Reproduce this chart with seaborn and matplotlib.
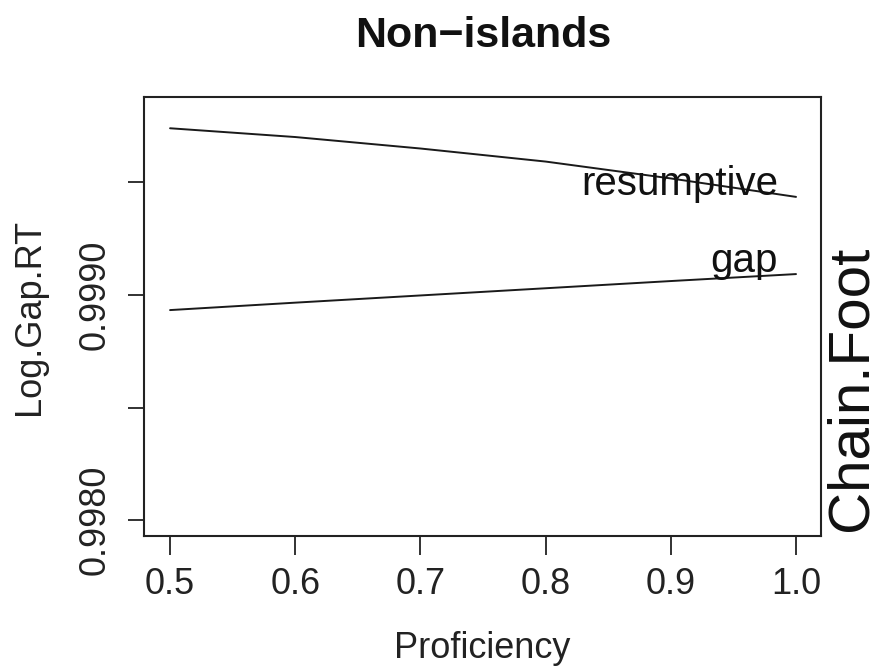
import numpy as np
import pandas as pd
import matplotlib
matplotlib.use("Agg")
import matplotlib.pyplot as plt
import seaborn as sns

# ==========================================================
# Data
# ==========================================================

proficiency = [0.5, 0.6, 0.7, 0.8, 0.9, 1.0]
resumptive_rt = [0.999741, 0.999702, 0.999651, 0.999593, 0.999518, 0.999436]
gap_rt = [0.998933, 0.998966, 0.998998, 0.999030, 0.999062, 0.999093]

y_ticks = [0.9980, 0.9985, 0.9990, 0.9995]
y_tick_labels = ["0.9980", "", "0.9990", ""]
x_ticks = [0.5, 0.6, 0.7, 0.8, 0.9, 1.0]
x_tick_labels = ["0.5", "0.6", "0.7", "0.8", "0.9", "1.0"]

df = pd.DataFrame({
    "Proficiency": proficiency * 2,
    "Log.Gap.RT": resumptive_rt + gap_rt,
    "Chain.Foot": ["resumptive"] * len(proficiency) + ["gap"] * len(proficiency),
})

# ==========================================================
# Plot
# ==========================================================

sns.set_style("ticks")
plt.rcParams["font.family"] = ["Liberation Sans", "DejaVu Sans"]

fig = plt.figure(figsize=(8.82, 6.67), dpi=100)
ax = fig.add_axes([0.1633, 0.1964, 0.7676, 0.6582])

sns.lineplot(
    data=df,
    x="Proficiency",
    y="Log.Gap.RT",
    hue="Chain.Foot",
    palette={"resumptive": "#1a1a1a", "gap": "#1a1a1a"},
    linewidth=1.4,
    legend=False,
    ax=ax,
)

ax.set_xlim(0.4792, 1.02)
ax.set_ylim(0.997929, 0.999880)

ax.set_xticks(x_ticks)
ax.set_xticklabels(x_tick_labels, fontsize=26, color="#222222")
ax.set_yticks(y_ticks)
ax.set_yticklabels(y_tick_labels, fontsize=26, rotation=90, va="center", color="#222222")

ax.tick_params(axis="x", length=13.5, width=1.3, pad=9, color="#222222")
ax.tick_params(axis="y", length=11.5, width=1.3, pad=11, color="#222222")

for spine in ax.spines.values():
    spine.set_visible(True)
    spine.set_linewidth(1.5)
    spine.set_color("#222222")

ax.set_xlabel("Proficiency", fontsize=26, labelpad=21, color="#222222")
ax.set_ylabel("Log.Gap.RT", fontsize=26, labelpad=22, color="#222222")

# curve labels
ax.text(0.9856, 0.999444, "resumptive", ha="right", va="baseline", fontsize=29, color="#111111")
ax.text(0.9856, 0.999102, "gap", ha="right", va="baseline", fontsize=29, color="#111111")

fig.text(483 / 882, 1 - 36 / 667, "Non\u2212islands", fontsize=31, fontweight="bold",
         ha="center", va="center", color="#111111")
fig.text(852 / 882, 1 - 388 / 667, "Chain.Foot", fontsize=42, rotation=90,
         ha="center", va="center", color="#111111")

fig.savefig("out.png", dpi=100)
